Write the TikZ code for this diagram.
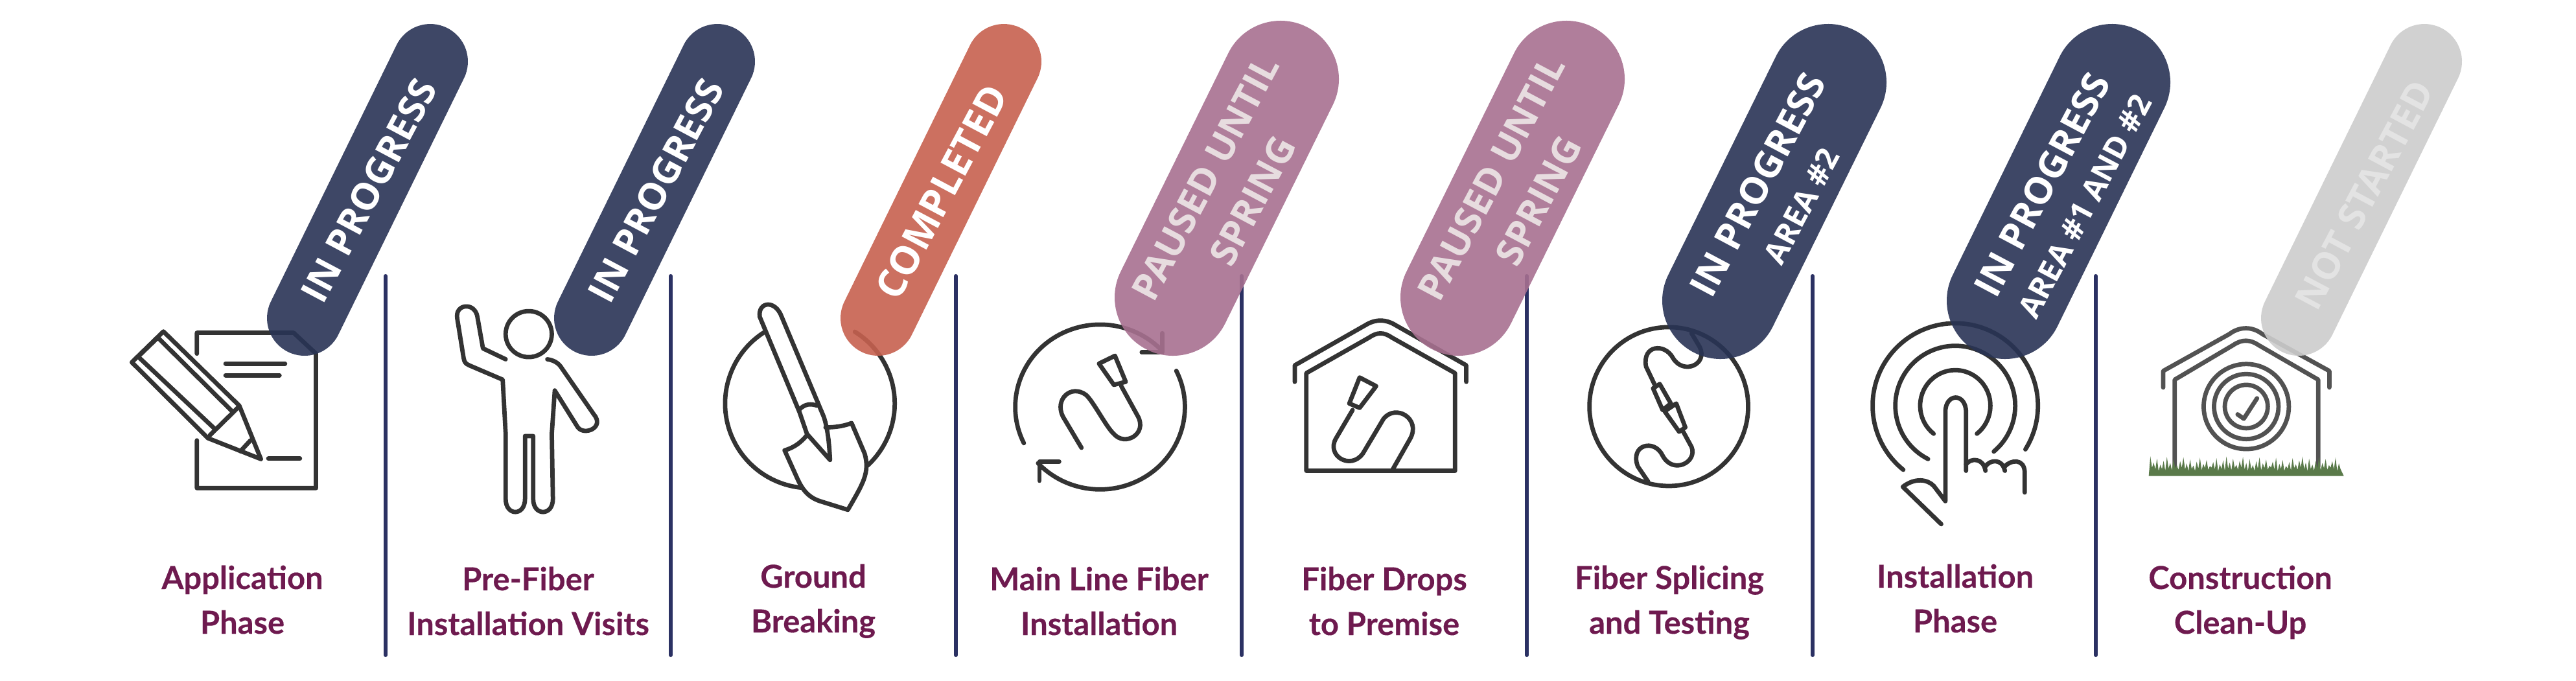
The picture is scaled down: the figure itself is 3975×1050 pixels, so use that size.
\documentclass[tikz,border=0pt]{standalone}
\usepackage{fontspec}
\setmainfont[BoldFeatures={FakeBold=0.25}]{Lato}
\newfontfamily\pillfont[BoldFont={Open Sans Bold}]{Open Sans}
\definecolor{inkc}{HTML}{333333}
\definecolor{navyc}{HTML}{293355}
\definecolor{pinkc}{HTML}{A77090}
\definecolor{salmc}{HTML}{C6614F}
\definecolor{grayc}{HTML}{CCCCCC}
\definecolor{rulec}{HTML}{2B3163}
\definecolor{labc}{HTML}{6E1A4F}
\definecolor{grassc}{HTML}{5A7A4A}
\definecolor{pausedtxt}{HTML}{E7DCDF}
\definecolor{nottxt}{HTML}{E3E3E3}
\tikzset{
 ink/.style={draw=inkc,line width=1.35mm,line cap=round,line join=round},
 vrule/.style={draw=rulec,line width=1.2mm,line cap=round},
 pillS/.style={line width=23.2mm,line cap=round,draw opacity=.9},
 pillL/.style={line width=36mm,line cap=round,draw opacity=.9},
 lab/.style={text=labc,font=\fontsize{27.8}{39.3}\selectfont\bfseries,align=center,inner sep=0pt},
 big/.style={rotate=62,inner sep=0pt,font=\pillfont\fontsize{33}{36}\selectfont\bfseries,text=white},
 small/.style={rotate=62,inner sep=0pt,font=\pillfont\fontsize{27}{30}\selectfont\bfseries,text=white},
 zA/.style={x=.1148mm,y=-.13392mm},
 zB/.style={x=.12756mm,y=-.13392mm},
}
\newcommand{\lbl}[5]{\node[lab] (#1) at (#2,#3+20.7) {\strut #4\\\strut #5};}
\begin{document}
\begin{tikzpicture}[x=.2mm,y=-.2mm]
\useasboundingbox (0,0) rectangle (3975,1050);
% dividers
\foreach \xx in {595,1035,1475,1916,2356,2797,3234} \draw[vrule] (\xx,426) -- (\xx,1011);
% icon 1
\begin{scope}[zA,xshift=30mm]
\draw[ink] (268,815) -- (268,767) -- (528,767) -- (588,815) -- (588,1125) -- (268,1125) -- (268,1015);
\draw[ink] (345,838) -- (505,838) (345,865) -- (490,865) (460,1057) -- (545,1057);
\draw[ink] (178,764) -- (382,935) -- (440,1058) -- (298,1010) -- (93,835) -- cycle;
\draw[ink] (163,778) -- (365,950) (110,822) -- (163,778) (110,822) -- (318,990) (380,938) -- (303,1003) (412,1015) -- (385,1040);
% icon 2
\draw[ink] (1160,770) ellipse [x radius=62,y radius=53];
\draw[ink] (1098,828) -- (1037,803) -- (1022,730) .. controls (1015,695) and (960,700) .. (968,735) -- (985,825) .. controls (987,835) and (990,838) .. (1000,842) -- (1090,875) -- (1098,1000) -- (1098,1150) .. controls (1098,1190) and (1150,1190) .. (1150,1150) -- (1150,1005) -- (1172,1005) -- (1172,1150) .. controls (1172,1190) and (1225,1190) .. (1225,1150) -- (1222,1000) -- (1230,900) -- (1292,985) .. controls (1310,1005) and (1365,985) .. (1335,955) -- (1250,850) .. controls (1240,835) and (1225,830) .. (1210,828);
\end{scope}
% icon 3, 4
\begin{scope}[zA,xshift=210mm]
\draw[ink] (348,930) ++(237:228 and 195) arc[start angle=237,end angle=96,x radius=228,y radius=195];
\draw[ink] (348,930) ++(-58:228 and 195) arc[start angle=-58,end angle=47,x radius=228,y radius=195];
\draw[ink] (280,1038) .. controls (310,1030) and (325,1018) .. (340,1003);
\draw[ink] (390,985) .. controls (415,985) and (440,982) .. (460,975) -- (495,1045) .. controls (510,1090) and (490,1115) .. (450,1175) -- (375,1155) .. controls (340,1145) and (325,1125) .. (310,1095) -- (280,1038);
\draw[ink] (213,730) .. controls (208,695) and (255,690) .. (272,730) -- (385,960) .. controls (395,985) and (400,1020) .. (402,1060) -- (340,1000) -- (320,950) -- cycle;
\draw[ink] (318,945) .. controls (335,930) and (350,930) .. (368,935);
\draw[ink] (1128,938) ++(154:228 and 190) arc[start angle=154,end angle=317,x radius=228,y radius=190];
\draw[ink] (1240,812) -- (1295,812) -- (1295,768);
\draw[ink] (1128,938) ++(-26:228 and 190) arc[start angle=-26,end angle=137,x radius=228,y radius=190];
\draw[ink] (1018,1064) -- (965,1064) -- (965,1108);
\draw[ink] (1078,1032) -- (1028,960) .. controls (1005,920) and (1050,885) .. (1090,910) .. controls (1110,925) and (1145,985) .. (1165,1000) .. controls (1195,1030) and (1255,1000) .. (1230,960) -- (1185,890);
\draw[ink] (1125,838) -- (1168,820) -- (1197,880) -- (1165,887) -- cycle;
\end{scope}
% icon 5, 6
\begin{scope}[zB,xshift=390mm]
\draw[ink] (75,880) -- (75,842) -- (245,750) .. controls (270,735) and (295,735) .. (320,750) -- (490,842) -- (490,880);
\draw[ink] (103,1085) -- (103,860) -- (255,778) .. controls (275,765) and (290,765) .. (310,778) -- (463,860) -- (463,1085) -- cycle;
\draw[ink] (312,1082) -- (355,1010) .. controls (380,965) and (320,930) .. (290,965) -- (240,1045) .. controls (210,1085) and (150,1050) .. (175,1010) -- (215,945);
\draw[ink] (232,870) -- (272,890) -- (232,940) -- (207,930) -- cycle;
\draw[ink] (980,937) ellipse [x radius=192,y radius=183];
\draw[ink] (1035,768) -- (1055,800) .. controls (1075,840) and (1015,865) .. (990,825) .. controls (970,790) and (915,795) .. (925,845) -- (945,885);
\draw[ink] (942,895) -- (958,885) -- (985,930) -- (965,945) -- cycle;
\draw[ink] (970,948) -- (998,930) -- (1020,985) -- (1005,995) -- cycle;
\draw[ink] (1015,995) -- (1035,1030) .. controls (1050,1065) and (990,1095) .. (965,1050) .. controls (945,1010) and (885,1025) .. (905,1075) -- (930,1110);
\end{scope}
% icon 7, 8
\begin{scope}[zB,xshift=570mm]
\draw[ink] (262,935) ++(129:200 and 190) arc[start angle=129,end angle=392,x radius=200,y radius=190];
\draw[ink] (262,935) ++(117:145 and 138) arc[start angle=117,end angle=410,x radius=145,y radius=138];
\draw[ink] (262,935) ++(128:85 and 82) arc[start angle=128,end angle=412,x radius=85,y radius=82];
\draw[ink] (228,1208) -- (135,1122) .. controls (165,1100) and (195,1105) .. (210,1120) -- (238,1155) -- (238,950) .. controls (238,905) and (288,905) .. (288,950) -- (288,1085);
\draw[ink] (288,1070) .. controls (300,1055) and (330,1055) .. (335,1085);
\draw[ink] (335,1075) .. controls (345,1060) and (375,1055) .. (382,1085);
\draw[ink] (382,1075) .. controls (395,1060) and (430,1055) .. (430,1090) -- (430,1135);
\begin{scope}[ink/.append style={draw=inkc!85!white}]
\draw[ink] (765,893) -- (765,855) -- (925,770) .. controls (950,752) and (980,752) .. (1005,770) -- (1167,855) -- (1167,893);
\draw[ink] (793,1075) -- (793,875) -- (935,795) .. controls (955,782) and (975,782) .. (995,795) -- (1140,875) -- (1140,1075);
\draw[ink] (966,937) ellipse [x radius=103,y radius=98];
\draw[ink] (966,937) ellipse [x radius=78,y radius=75];
\draw[ink] (966,937) ellipse [x radius=52,y radius=50];
\draw[ink] (945,955) -- (960,965) -- (992,918);
\end{scope}
\fill[grassc] (730,1097) \foreach \i in {0,...,57} {
  -- ({734+\i*8},{1052+mod(\i*37,23)}) -- ({738+\i*8},{1078+mod(\i*13,9)}) } -- (1202,1097) -- cycle;
\end{scope}
% pills
\draw[pillS,draw=navyc] (470,491) -- (664,95);
\draw[pillS,draw=navyc] (913,491) -- (1107,95);
\draw[pillS,draw=salmc] (1355,491) -- (1549,95);
\draw[pillL,draw=pinkc] (1810,459) -- (1976,122);
\draw[pillL,draw=pinkc] (2251,459) -- (2417,122);
\draw[pillL,draw=navyc] (2655,464) -- (2821,127);
\draw[pillL,draw=navyc] (3094,464) -- (3259,127);
\draw[pillS,draw=grayc] (3547,491) -- (3741,95);
% pill texts
\node[big] (t1) at (569,294) {IN PROGRESS};
\node[big] (t2) at (1012,294) {IN PROGRESS};
\node[big,font=\pillfont\fontsize{34.5}{36}\selectfont\bfseries] (t3) at (1453,296) {COMPLETED};
\node[big,text=pausedtxt] (t4a) at (1860,275) {PAUSED UNTIL};
\node[big,text=pausedtxt] (t4b) at (1933,310) {SPRING};
\node[big,text=pausedtxt] (t5a) at (2301,275) {PAUSED UNTIL};
\node[big,text=pausedtxt] (t5b) at (2374,310) {SPRING};
\node[big] (t6a) at (2712,285) {IN PROGRESS};
\node[small] (t6b) at (2780,318) {AREA \#2};
\node[big] (t7a) at (3151,285) {IN PROGRESS};
\node[small] (t7b) at (3217,318) {AREA \#1 AND \#2};
\node[big,text=nottxt] (t8) at (3648,301) {NOT STARTED};
% labels
\lbl{l1}{374}{909}{Application}{Phase}
\lbl{l2}{815}{911}{Pre-Fiber}{Installation Visits}
\lbl{l3}{1255}{907}{Ground}{Breaking}
\lbl{l4}{1696}{911}{Main Line Fiber}{Installation}
\lbl{l5}{2136}{911}{Fiber Drops}{to Premise}
\lbl{l6}{2576}{909}{Fiber Splicing}{and Testing}
\lbl{l7}{3017}{907}{Installation}{Phase}
\lbl{l8}{3457}{909}{Construction}{Clean-Up}
\end{tikzpicture}
\end{document}
